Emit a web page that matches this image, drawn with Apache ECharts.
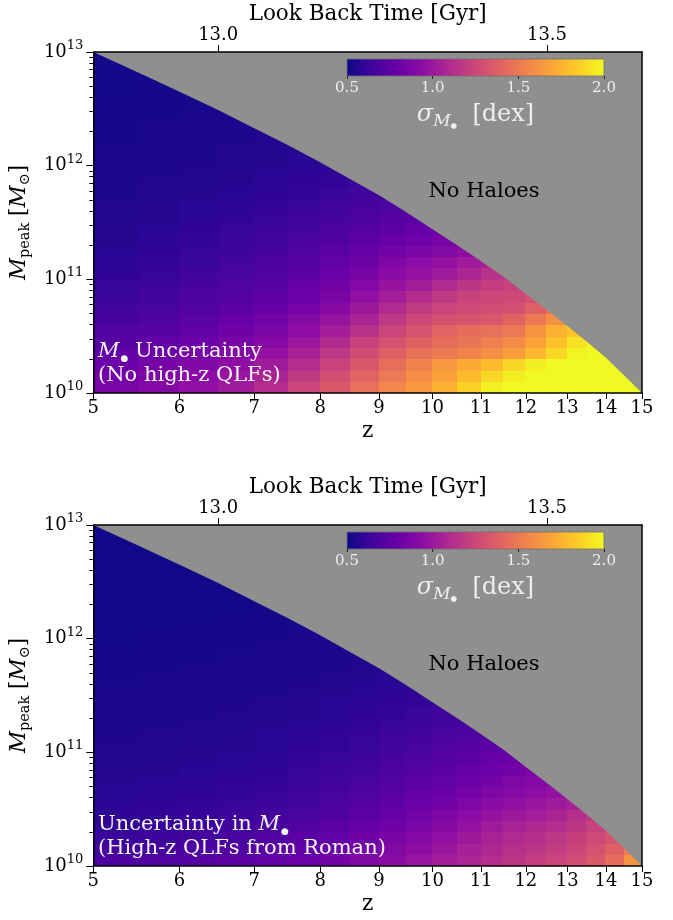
<!DOCTYPE html>
<html><head><meta charset="utf-8">
<script src="https://cdn.jsdelivr.net/npm/echarts@6/dist/echarts.min.js"></script>
<style>html,body{margin:0;padding:0;background:#fff}#c{width:673px;height:920px}</style>
</head><body><div id="c"></div>
<script>
// ---------------- DATA ----------------
const zTicks = [5, 6, 7, 8, 9, 10, 11, 12, 13, 14, 15];
const lookbackTickLabels = ['13.0', '13.5'];
const lookbackTickZ = [6.5, 12.5];
const massTicks = [10, 11, 12, 13];
const cbarTicks = [0.5, 1.0, 1.5, 2.0];

// heat-map cell edges (redshift z, log10 M_peak)
const zEdges = [5, 5.5, 6, 6.5, 7, 7.5, 8, 8.5, 9, 9.5, 10, 10.5, 11, 11.5, 12, 12.5, 13, 13.5, 14, 14.5, 15];
const mEdges = [10.0, 10.1, 10.2, 10.3, 10.4, 10.5, 10.6, 10.7, 10.8, 10.9, 11.0, 11.1, 11.2, 11.3, 11.4, 11.5,
                11.6, 11.7, 11.8, 11.9, 12.0, 12.1, 12.2, 12.3, 12.4, 12.5, 12.6, 12.7, 12.8, 12.9, 13.0];

// halo mass limit ("No Haloes" above)
const boundaryZ = [5, 5.5, 6, 6.5, 7, 7.5, 8, 8.5, 9, 9.5, 10, 10.5, 11, 11.5, 12, 12.5, 13, 13.5, 14, 14.5, 15];
const boundaryLogM = [13.0, 12.82, 12.65, 12.49, 12.33, 12.18, 12.03, 11.88, 11.74, 11.59, 11.44, 11.30, 11.16, 11.02, 10.87, 10.73, 10.59, 10.45, 10.31, 10.155, 10.0];

// sigma_M (dex), one row per mass bin (from 10.0 upward), one value per z bin (from z=5)
const sigmaNoQLF = [
  [0.87,0.91,0.96,1.02,1.12,1.24,1.34,1.46,1.56,1.64,1.74,1.86,1.97,2.0,2.0,2.0,2.0,2.0,2.0,2.0],
  [0.84,0.88,0.93,0.99,1.07,1.18,1.29,1.40,1.50,1.59,1.68,1.78,1.88,1.96,2.0,2.0,2.0,2.0,2.0,2.0],
  [0.81,0.85,0.89,0.95,1.02,1.12,1.23,1.34,1.45,1.54,1.64,1.71,1.78,1.88,1.96,2.0,2.0,2.0,2.0],
  [0.77,0.81,0.85,0.90,0.97,1.06,1.17,1.28,1.38,1.46,1.50,1.55,1.60,1.66,1.76,1.88,1.98,2.0,2.0],
  [0.73,0.77,0.81,0.86,0.92,1.00,1.10,1.22,1.31,1.38,1.44,1.48,1.52,1.58,1.68,1.80,1.92,1.98],
  [0.70,0.73,0.77,0.82,0.87,0.95,1.04,1.14,1.24,1.32,1.40,1.44,1.46,1.50,1.62,1.74,1.82],
  [0.67,0.70,0.74,0.78,0.83,0.90,0.98,1.07,1.17,1.25,1.30,1.32,1.34,1.40,1.50,1.60,1.70],
  [0.65,0.68,0.71,0.75,0.79,0.85,0.92,1.01,1.10,1.18,1.24,1.27,1.28,1.30,1.38,1.46],
  [0.63,0.66,0.69,0.72,0.76,0.81,0.87,0.96,1.04,1.11,1.18,1.23,1.25,1.26,1.30],
  [0.62,0.64,0.67,0.70,0.73,0.78,0.83,0.91,0.98,1.03,1.10,1.16,1.20,1.22],
  [0.60,0.62,0.65,0.68,0.71,0.75,0.80,0.86,0.93,0.97,1.02,1.08,1.14,1.18],
  [0.59,0.61,0.63,0.66,0.69,0.72,0.77,0.82,0.88,0.93,0.97,1.02,1.06],
  [0.58,0.60,0.62,0.64,0.67,0.70,0.74,0.78,0.83,0.87,0.90,0.94],
  [0.57,0.59,0.61,0.63,0.65,0.68,0.71,0.75,0.79,0.82,0.85],
  [0.57,0.58,0.60,0.62,0.64,0.66,0.69,0.72,0.75,0.78,0.80],
  [0.56,0.57,0.59,0.60,0.62,0.64,0.67,0.69,0.72,0.74],
  [0.56,0.57,0.58,0.59,0.61,0.63,0.65,0.67,0.69],
  [0.55,0.56,0.57,0.58,0.60,0.61,0.63,0.65,0.67],
  [0.55,0.56,0.56,0.57,0.59,0.60,0.61,0.63],
  [0.54,0.55,0.56,0.57,0.58,0.59,0.60],
  [0.54,0.55,0.55,0.56,0.57,0.58,0.59],
  [0.54,0.54,0.55,0.56,0.56,0.57],
  [0.53,0.54,0.54,0.55,0.56],
  [0.53,0.54,0.54,0.55,0.55],
  [0.53,0.53,0.54,0.54],
  [0.53,0.53,0.53],
  [0.52,0.53,0.53],
  [0.52,0.52],
  [0.52,0.52],
  [0.52]
];

const sigmaRoman = [
  [0.69,0.70,0.72,0.74,0.77,0.80,0.84,0.88,0.93,0.99,1.04,1.08,1.12,1.16,1.20,1.24,1.28,1.34,1.44,1.62],
  [0.66,0.67,0.69,0.71,0.74,0.77,0.80,0.85,0.90,0.95,1.00,1.05,1.09,1.13,1.16,1.20,1.24,1.30,1.38,1.52],
  [0.63,0.64,0.66,0.68,0.71,0.74,0.77,0.82,0.86,0.91,0.96,1.01,1.06,1.10,1.13,1.17,1.21,1.26,1.32],
  [0.61,0.62,0.64,0.66,0.68,0.71,0.74,0.78,0.82,0.87,0.92,0.97,1.02,1.06,1.09,1.12,1.16,1.22,1.26],
  [0.60,0.61,0.62,0.64,0.66,0.68,0.71,0.75,0.79,0.83,0.88,0.93,0.98,1.01,1.04,1.07,1.12,1.16],
  [0.59,0.60,0.61,0.62,0.64,0.66,0.69,0.72,0.76,0.80,0.84,0.88,0.93,0.96,0.99,1.02,1.06],
  [0.58,0.59,0.60,0.61,0.62,0.64,0.67,0.70,0.73,0.77,0.80,0.84,0.88,0.91,0.94,0.97,1.00],
  [0.57,0.58,0.59,0.60,0.61,0.63,0.65,0.68,0.71,0.74,0.77,0.81,0.84,0.88,0.91,0.94],
  [0.57,0.57,0.58,0.59,0.60,0.62,0.64,0.66,0.69,0.72,0.75,0.78,0.81,0.84,0.87],
  [0.56,0.57,0.57,0.58,0.59,0.61,0.62,0.64,0.67,0.70,0.72,0.75,0.78,0.80],
  [0.56,0.56,0.57,0.57,0.58,0.60,0.61,0.63,0.65,0.68,0.70,0.73,0.75,0.77],
  [0.55,0.56,0.56,0.57,0.58,0.59,0.60,0.62,0.64,0.66,0.68,0.70,0.72],
  [0.55,0.55,0.56,0.56,0.57,0.58,0.59,0.61,0.62,0.64,0.66,0.68],
  [0.54,0.55,0.55,0.56,0.56,0.57,0.58,0.60,0.61,0.63,0.64],
  [0.54,0.54,0.55,0.55,0.56,0.57,0.58,0.59,0.60,0.61,0.63],
  [0.54,0.54,0.54,0.55,0.55,0.56,0.57,0.58,0.59,0.60],
  [0.53,0.54,0.54,0.54,0.55,0.55,0.56,0.57,0.58],
  [0.53,0.53,0.54,0.54,0.54,0.55,0.55,0.56,0.57],
  [0.53,0.53,0.53,0.54,0.54,0.54,0.55,0.55],
  [0.52,0.53,0.53,0.53,0.54,0.54,0.54],
  [0.52,0.52,0.53,0.53,0.53,0.54,0.54],
  [0.52,0.52,0.52,0.53,0.53,0.53],
  [0.52,0.52,0.52,0.52,0.53],
  [0.51,0.52,0.52,0.52,0.52],
  [0.51,0.51,0.52,0.52],
  [0.51,0.51,0.51],
  [0.51,0.51,0.51],
  [0.51,0.51],
  [0.51,0.51],
  [0.51]
];

// ---------------- STYLE / BUILD ----------------
const F = 'DejaVu Serif';
const GRAY = '#8f908d';
const plasma = ['#0d0887','#41049d','#6a00a8','#8f0da4','#b12a90','#cc4778','#e16462','#f2844b','#fca636','#fcce25','#f0f921'];
const lg = z => Math.log10(1 + z);
const XMIN = lg(5), XMAX = lg(15);

function cells(rows) {
  const out = [];
  rows.forEach((row, r) => row.forEach((v, c) => {
    out.push([lg(zEdges[c]), lg(zEdges[c + 1]), mEdges[r], mEdges[r + 1], v]);
  }));
  return out;
}
function renderCell(params, api) {
  const a = api.coord([api.value(0), api.value(3)]);
  const b = api.coord([api.value(1), api.value(2)]);
  const x0 = Math.floor(a[0]), y0 = Math.floor(a[1]);
  const x1 = Math.ceil(b[0]), y1 = Math.ceil(b[1]);
  return { type: 'rect', shape: { x: x0, y: y0, width: x1 - x0, height: y1 - y0 },
           style: { fill: api.visual('color') } };
}
function renderCbar(params, api) {
  const a = api.coord([api.value(0), 1]);
  const b = api.coord([api.value(1), 0]);
  return { type: 'rect', shape: { x: a[0], y: a[1], width: b[0] - a[0], height: b[1] - a[1] },
           style: { fill: new echarts.graphic.LinearGradient(0, 0, 1, 0,
                     plasma.map((c, i) => ({ offset: i / (plasma.length - 1), color: c }))),
                    stroke: '#6f6f6f', lineWidth: 0.8 } };
}
const minorTicks = [];
[10, 11, 12].forEach(n => { for (let k = 2; k <= 9; k++) minorTicks.push(n + Math.log10(k)); });

const lineS = { color: '#000', width: 1.5 };
const panelTops = [52, 525];
const grids = [], xAxes = [], yAxes = [], series = [], graphics = [];
const W = '#f6f6f6';
const panels = [
  { data: sigmaNoQLF, text: '{i|M}{d|●}{t| Uncertainty}\n{t|(No high-z QLFs)}' },
  { data: sigmaRoman, text: '{t|Uncertainty in }{i|M}{d|●}\n{t|(High-z QLFs from Roman)}' }
];
panels.forEach((p, k) => {
  const top = panelTops[k];
  const gMain = grids.length;
  grids.push({ left: 88, top: top, width: 554, height: 341, show: false });
  const gCb = grids.length;
  grids.push({ left: 347, top: top + 7, width: 257, height: 17, show: false });

  const xBottom = xAxes.length;
  xAxes.push({
    gridIndex: gMain, type: 'value', position: 'bottom', min: XMIN, max: XMAX, z: 10,
    axisLine: { show: true, onZero: false, lineStyle: lineS },
    axisTick: { show: true, customValues: zTicks.map(lg), length: 6, lineStyle: { color: '#000', width: 1 } },
    axisLabel: { customValues: zTicks.map(lg), formatter: v => String(Math.round(Math.pow(10, v) - 1)),
                 fontFamily: F, fontSize: 18, color: '#000', margin: 6 },
    splitLine: { show: false },
    name: 'z', nameLocation: 'middle', nameGap: 27,
    nameTextStyle: { fontFamily: F, fontSize: 21.5, color: '#000' }
  });
  xAxes.push({
    gridIndex: gMain, type: 'value', position: 'top', min: XMIN, max: XMAX, z: 10,
    axisLine: { show: true, onZero: false, lineStyle: lineS },
    axisTick: { show: true, customValues: lookbackTickZ.map(lg), length: 7, lineStyle: { color: '#000', width: 1 } },
    axisLabel: { customValues: lookbackTickZ.map(lg),
                 formatter: v => { let b = 0; lookbackTickZ.forEach((z, i) => { if (Math.abs(lg(z) - v) < Math.abs(lg(lookbackTickZ[b]) - v)) b = i; }); return lookbackTickLabels[b]; },
                 fontFamily: F, fontSize: 18, color: '#000', margin: 8 },
    splitLine: { show: false },
    name: 'Look Back Time [Gyr]', nameLocation: 'middle', nameGap: 27,
    nameTextStyle: { fontFamily: F, fontSize: 21.5, color: '#000' }
  });
  const yLeft = yAxes.length;
  yAxes.push({
    gridIndex: gMain, type: 'value', position: 'left', min: 10, max: 13, z: 10,
    axisLine: { show: true, onZero: false, lineStyle: lineS },
    axisTick: { show: true, customValues: massTicks, length: 7, lineStyle: { color: '#000', width: 1 } },
    axisLabel: { customValues: massTicks, formatter: v => '{b|10}{sup|' + Math.round(v) + '}', margin: 10,
                 rich: { b: { fontFamily: F, fontSize: 18, color: '#000', lineHeight: 26 },
                         sup: { fontFamily: F, fontSize: 13, color: '#000', lineHeight: 13, verticalAlign: 'top' } } },
    splitLine: { show: false },
    name: '{i|M}{p|peak}{t| [}{i|M}{p|⊙}{t|]}', nameLocation: 'middle', nameGap: 45, nameRotate: 90,
    nameTextStyle: { fontFamily: F, fontSize: 21.5, color: '#000',
      rich: { i: { fontFamily: F, fontStyle: 'italic', fontSize: 21.5, color: '#000', lineHeight: 28 },
              p: { fontFamily: F, fontSize: 14.5, color: '#000', lineHeight: 18, verticalAlign: 'bottom' },
              t: { fontFamily: F, fontSize: 21.5, color: '#000', lineHeight: 28 } } }
  });
  yAxes.push({
    gridIndex: gMain, type: 'value', position: 'left', min: 10, max: 13, z: 10,
    axisLine: { show: false }, axisLabel: { show: false }, splitLine: { show: false },
    axisTick: { show: true, customValues: minorTicks, length: 4, lineStyle: { color: '#000', width: 1 } }
  });
  yAxes.push({
    gridIndex: gMain, type: 'value', position: 'right', min: 10, max: 13, z: 10,
    axisLine: { show: true, onZero: false, lineStyle: lineS }, axisTick: { show: false },
    axisLabel: { show: false }, splitLine: { show: false }
  });
  // colorbar axes
  const xCb = xAxes.length;
  xAxes.push({
    gridIndex: gCb, type: 'value', position: 'bottom', min: 0.5, max: 2.0, interval: 0.5, z: 10,
    axisLine: { show: false }, splitLine: { show: false },
    axisTick: { show: true, length: 3, lineStyle: { color: '#222', width: 1 } },
    axisLabel: { formatter: v => v.toFixed(1), fontFamily: F, fontSize: 15, color: '#eeeeee', margin: 5 },
    name: '{s|σ}{m|M}{d|●}{t|  [dex]}', nameLocation: 'middle', nameGap: 24,
    nameTextStyle: { color: '#eeeeee', fontFamily: F, fontSize: 24,
      rich: { s: { fontFamily: F, fontStyle: 'italic', fontSize: 24, color: '#eeeeee', lineHeight: 30 },
              m: { fontFamily: F, fontStyle: 'italic', fontSize: 17, color: '#eeeeee', lineHeight: 20, verticalAlign: 'bottom' },
              d: { fontFamily: F, fontSize: 7.5, color: '#eeeeee', lineHeight: 7, verticalAlign: 'bottom' },
              t: { fontFamily: F, fontSize: 24, color: '#eeeeee', lineHeight: 30 } } }
  });
  const yCb = yAxes.length;
  yAxes.push({ gridIndex: gCb, type: 'value', min: 0, max: 1, show: false });

  series.push({
    type: 'custom', xAxisIndex: xBottom, yAxisIndex: yLeft, data: cells(p.data),
    encode: { x: [0, 1], y: [2, 3] }, renderItem: renderCell, silent: true, clip: true, z: 2
  });
  series.push({
    type: 'line', xAxisIndex: xBottom, yAxisIndex: yLeft,
    data: boundaryZ.map((z, i) => [lg(z), boundaryLogM[i]]),
    symbol: 'none', lineStyle: { width: 0 }, silent: true,
    areaStyle: { color: GRAY, opacity: 1, origin: 'end' }, z: 3
  });
  series.push({
    type: 'custom', xAxisIndex: xCb, yAxisIndex: yCb, data: [[cbarTicks[0], cbarTicks[cbarTicks.length - 1]]],
    encode: { x: [0, 1] }, renderItem: renderCbar, silent: true, z: 4
  });

  graphics.push({
    type: 'text', x: 484, y: top + 140, z: 100, silent: true,
    style: { text: 'No Haloes', fontFamily: F, fontSize: 21, fill: '#000', align: 'center', verticalAlign: 'middle' }
  });
  graphics.push({
    type: 'text', x: 98, y: top + 288, z: 100, silent: true,
    style: { text: p.text, fill: W, fontFamily: F, fontSize: 21, align: 'left', verticalAlign: 'top',
      rich: { i: { fontFamily: F, fontStyle: 'italic', fontSize: 21, fill: W, lineHeight: 24 },
              d: { fontFamily: F, fontSize: 9, fill: W, lineHeight: 10, verticalAlign: 'bottom', padding: [0, 0, 1, 1] },
              t: { fontFamily: F, fontSize: 21, fill: W, lineHeight: 24 } } }
  });
});

const chart = echarts.init(document.getElementById('c'), null, { renderer: 'canvas' });
chart.setOption({
  animation: false,
  backgroundColor: '#ffffff',
  grid: grids, xAxis: xAxes, yAxis: yAxes,
  visualMap: { type: 'continuous', show: false, min: 0.5, max: 2.0, dimension: 4,
               seriesIndex: [0, 3], inRange: { color: plasma } },
  series: series,
  graphic: graphics
});
</script></body></html>
